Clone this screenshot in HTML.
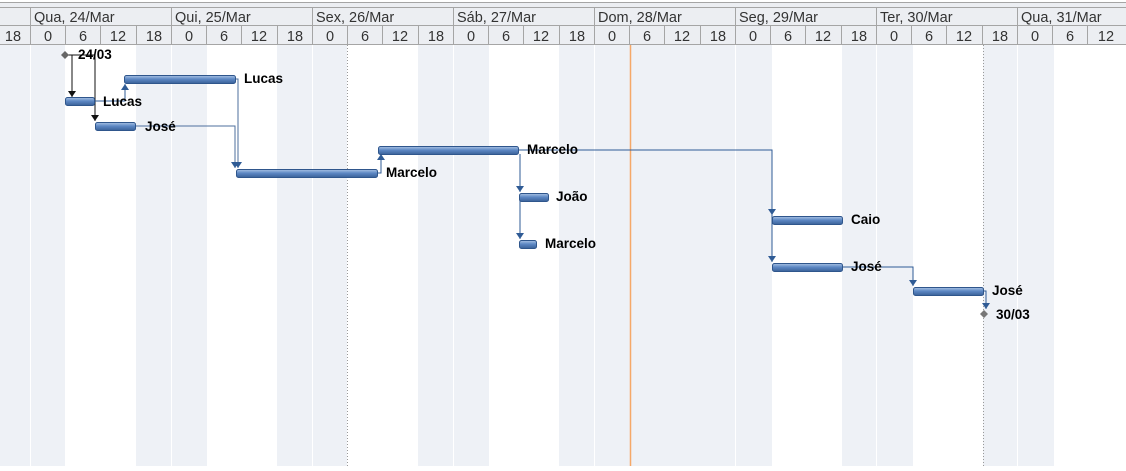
<!DOCTYPE html>
<html><head><meta charset="utf-8"><style>
body{margin:0;width:1126px;height:466px;overflow:hidden;background:#fff;font-family:"Liberation Sans",sans-serif}
</style></head><body>
<svg width="1126" height="466" xmlns="http://www.w3.org/2000/svg" font-family="Liberation Sans, sans-serif">
<defs>
<linearGradient id="g" x1="0" y1="0" x2="0" y2="1">
<stop offset="0" stop-color="#a9c2e4"/><stop offset="0.45" stop-color="#5d88c4"/><stop offset="1" stop-color="#3a6198"/>
</linearGradient>
<marker id="a" viewBox="0 0 6 8" refX="6" refY="4" markerWidth="6" markerHeight="8" orient="auto" markerUnits="userSpaceOnUse"><path d="M0,0 L6,4 L0,8z" fill="#2f5b95"/></marker>
<marker id="b" viewBox="0 0 6 8" refX="6" refY="4" markerWidth="6" markerHeight="8" orient="auto" markerUnits="userSpaceOnUse"><path d="M0,0 L6,4 L0,8z" fill="#111"/></marker>
</defs>
<g fill="#eef1f6">
<rect x="0" y="45" width="65" height="421"/>
<rect x="136" y="45" width="71" height="421"/>
<rect x="277" y="45" width="70" height="421"/>
<rect x="418" y="45" width="71" height="421"/>
<rect x="559" y="45" width="213" height="421"/>
<rect x="842" y="45" width="71" height="421"/>
<rect x="983" y="45" width="71" height="421"/>
</g>
<g stroke="#fff" stroke-width="1">
<line x1="30.5" y1="45" x2="30.5" y2="466"/><line x1="171.5" y1="45" x2="171.5" y2="466"/>
<line x1="312.5" y1="45" x2="312.5" y2="466"/><line x1="453.5" y1="45" x2="453.5" y2="466"/>
<line x1="594.5" y1="45" x2="594.5" y2="466"/><line x1="735.5" y1="45" x2="735.5" y2="466"/>
<line x1="876.5" y1="45" x2="876.5" y2="466"/><line x1="1017.5" y1="45" x2="1017.5" y2="466"/>
</g>
<line x1="347.5" y1="45" x2="347.5" y2="466" stroke="#999" stroke-dasharray="1,2"/>
<line x1="983.5" y1="45" x2="983.5" y2="466" stroke="#999" stroke-dasharray="1,2"/>
<line x1="630.5" y1="45" x2="630.5" y2="466" stroke="#f5a868" stroke-width="1.5"/>
<rect x="0" y="2" width="1126" height="43" fill="#eceef2"/>
<line x1="0" y1="2.5" x2="1126" y2="2.5" stroke="#a5a5a5"/>
<line x1="0" y1="7.5" x2="1126" y2="7.5" stroke="#a5a5a5"/>
<line x1="0" y1="25.5" x2="1126" y2="25.5" stroke="#a5a5a5"/>
<line x1="0" y1="44.5" x2="1126" y2="44.5" stroke="#a5a5a5"/>
<g stroke="#a5a5a5">
<line x1="30.5" y1="7" x2="30.5" y2="45"/><line x1="171.5" y1="7" x2="171.5" y2="45"/><line x1="312.5" y1="7" x2="312.5" y2="45"/><line x1="453.5" y1="7" x2="453.5" y2="45"/><line x1="594.5" y1="7" x2="594.5" y2="45"/><line x1="735.5" y1="7" x2="735.5" y2="45"/><line x1="876.5" y1="7" x2="876.5" y2="45"/><line x1="1017.5" y1="7" x2="1017.5" y2="45"/>
<line x1="65.5" y1="25" x2="65.5" y2="45"/><line x1="100.5" y1="25" x2="100.5" y2="45"/><line x1="136.5" y1="25" x2="136.5" y2="45"/>
<line x1="206.5" y1="25" x2="206.5" y2="45"/><line x1="241.5" y1="25" x2="241.5" y2="45"/><line x1="277.5" y1="25" x2="277.5" y2="45"/>
<line x1="347.5" y1="25" x2="347.5" y2="45"/><line x1="382.5" y1="25" x2="382.5" y2="45"/><line x1="418.5" y1="25" x2="418.5" y2="45"/>
<line x1="488.5" y1="25" x2="488.5" y2="45"/><line x1="523.5" y1="25" x2="523.5" y2="45"/><line x1="559.5" y1="25" x2="559.5" y2="45"/>
<line x1="629.5" y1="25" x2="629.5" y2="45"/><line x1="664.5" y1="25" x2="664.5" y2="45"/><line x1="700.5" y1="25" x2="700.5" y2="45"/>
<line x1="770.5" y1="25" x2="770.5" y2="45"/><line x1="805.5" y1="25" x2="805.5" y2="45"/><line x1="841.5" y1="25" x2="841.5" y2="45"/>
<line x1="911.5" y1="25" x2="911.5" y2="45"/><line x1="946.5" y1="25" x2="946.5" y2="45"/><line x1="982.5" y1="25" x2="982.5" y2="45"/>
<line x1="1052.5" y1="25" x2="1052.5" y2="45"/><line x1="1087.5" y1="25" x2="1087.5" y2="45"/>
</g>
<g font-size="14.5" fill="#333">
<text x="34" y="22">Qua, 24/Mar</text><text x="175" y="22">Qui, 25/Mar</text><text x="316" y="22">Sex, 26/Mar</text><text x="457" y="22">Sáb, 27/Mar</text><text x="598" y="22">Dom, 28/Mar</text><text x="739" y="22">Seg, 29/Mar</text><text x="880" y="22">Ter, 30/Mar</text><text x="1021" y="22">Qua, 31/Mar</text>
</g>
<g font-size="14.5" fill="#333" text-anchor="middle">
<text x="13" y="41">18</text>
<text x="48" y="41">0</text><text x="83" y="41">6</text><text x="118" y="41">12</text><text x="154" y="41">18</text>
<text x="189" y="41">0</text><text x="224" y="41">6</text><text x="259" y="41">12</text><text x="295" y="41">18</text>
<text x="330" y="41">0</text><text x="365" y="41">6</text><text x="400" y="41">12</text><text x="436" y="41">18</text>
<text x="471" y="41">0</text><text x="506" y="41">6</text><text x="541" y="41">12</text><text x="577" y="41">18</text>
<text x="612" y="41">0</text><text x="647" y="41">6</text><text x="682" y="41">12</text><text x="718" y="41">18</text>
<text x="753" y="41">0</text><text x="788" y="41">6</text><text x="823" y="41">12</text><text x="859" y="41">18</text>
<text x="894" y="41">0</text><text x="929" y="41">6</text><text x="964" y="41">12</text><text x="1000" y="41">18</text>
<text x="1035" y="41">0</text><text x="1070" y="41">6</text><text x="1106" y="41">12</text>
</g>
<g fill="none" stroke-width="1">
<path d="M65,55 H95 V121" stroke="#111" marker-end="url(#b)"/>
<path d="M72,55 V97" stroke="#111" marker-end="url(#b)"/>
<path d="M94,101 H125 V84" stroke="#2f5b95" marker-end="url(#a)"/>
<path d="M235,79 H238 V168" stroke="#4d6f9e" marker-end="url(#a)"/>
<path d="M135,126 H235 V168" stroke="#4d6f9e" marker-end="url(#a)"/>
<path d="M377,173 H381 V154" stroke="#2f5b95" marker-end="url(#a)"/>
<path d="M518,150 H772 V215" stroke="#2f5b95" marker-end="url(#a)"/>
<path d="M772,215 V262" stroke="#2f5b95" marker-end="url(#a)"/>
<path d="M520,154 V192" stroke="#2f5b95" marker-end="url(#a)"/>
<path d="M520,196 V239" stroke="#2f5b95" marker-end="url(#a)"/>
<path d="M842,267 H913 V286" stroke="#2f5b95" marker-end="url(#a)"/>
<path d="M983,291 H986 V309" stroke="#2f5b95" marker-end="url(#a)"/>
</g>
<g fill="url(#g)" stroke="#2f568c" stroke-width="1">
<rect x="65.5" y="97.5" width="29" height="8" rx="2"/>
<rect x="124.5" y="75.5" width="111" height="8" rx="2"/>
<rect x="95.5" y="122.5" width="40" height="8" rx="2"/>
<rect x="236.5" y="169.5" width="141" height="8" rx="2"/>
<rect x="378.5" y="146.5" width="140" height="8" rx="2"/>
<rect x="519.5" y="193.5" width="29" height="8" rx="2"/>
<rect x="519.5" y="240.5" width="17" height="8" rx="2"/>
<rect x="772.5" y="216.5" width="70" height="8" rx="2"/>
<rect x="772.5" y="263.5" width="70" height="8" rx="2"/>
<rect x="913.5" y="287.5" width="70" height="8" rx="2"/>
</g>
<path d="M65,51 L69,55 L65,59 L61,55z" fill="#666"/>
<path d="M984,310 L988,314 L984,318 L980,314z" fill="#777"/>
<g font-size="13.5" font-weight="bold" fill="#000">
<text x="78" y="59">24/03</text>
<text x="244" y="83">Lucas</text>
<text x="103" y="106">Lucas</text>
<text x="145" y="131">José</text>
<text x="527" y="154">Marcelo</text>
<text x="386" y="177">Marcelo</text>
<text x="556" y="201">João</text>
<text x="545" y="248">Marcelo</text>
<text x="851" y="224">Caio</text>
<text x="851" y="271">José</text>
<text x="992" y="295">José</text>
<text x="996" y="319">30/03</text>
</g>
</svg>
</body></html>
